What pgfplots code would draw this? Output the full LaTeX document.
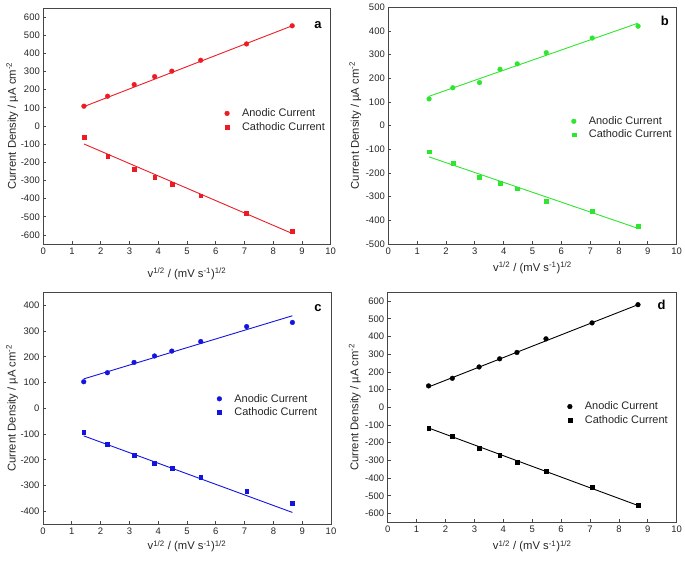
\documentclass[border=0pt]{standalone}
\usepackage{fontspec}
\setmainfont{Liberation Sans}
\usepackage{pgfplots}
\pgfplotsset{compat=1.18}
\definecolor{cred}{RGB}{237,28,36}
\definecolor{cgreen}{RGB}{45,230,45}
\definecolor{cblue}{RGB}{20,20,225}
\definecolor{cblack}{RGB}{0,0,0}
\definecolor{axgray}{RGB}{70,70,70}
\pgfplotsset{
 panel/.style={
  scale only axis,
  anchor=south west,
  xmin=0, xmax=10, xtick={0,1,...,10},
  tick pos=left, tick align=inside,
  major tick length=3bp,
  axis line style={axgray, line width=0.9bp},
  tick style={axgray, line width=0.8bp},
  /pgf/number format/assume math mode=true,
  ticklabel style={font=\fontsize{9.5}{11}\selectfont, text=black!85},
  label style={font=\fontsize{11.3}{13}\selectfont, text=black!85},
  xlabel={v\textsuperscript{1/2} / (mV s\textsuperscript{-1})\textsuperscript{1/2}},
  ylabel={Current Density / µA cm\textsuperscript{-2}},
  legend style={draw=none, fill=none, font=\fontsize{11}{13}\selectfont, text=black!85, anchor=west, row sep=0pt},
  legend cell align=left,
  legend image code/.code={\draw[##1] plot coordinates {(0bp,0bp)}; \path[draw=none,fill=none] (0bp,0bp) (13bp,0bp);},
  scaled y ticks=false,
  an/.style={only marks, mark=*, mark size=2.4bp, line width=0.3bp},
  ca/.style={only marks, mark=square*, mark size=1.9bp, line width=0.3bp},
  fit/.style={line width=0.9bp, no marks, forget plot},
 },
}
\begin{document}
\begin{tikzpicture}
\useasboundingbox (0,0) rectangle (685bp,564bp);
% ---------------- a
\begin{axis}[panel, at={(43.3bp,320bp)}, width=287.4bp, height=236bp,
  ymin=-650, ymax=650, ytick={-600,-500,...,600},
  xlabel style={at={([yshift=-30bp]axis description cs:0.5,0)}, anchor=center},
  ylabel style={at={([xshift=-31bp]axis description cs:0,0.5)}, anchor=center},
  legend style={at={(rel axis cs:0.620,0.525)}}]
\addplot[an, cred] coordinates {(1.414,109) (2.236,164) (3.162,228) (3.873,272) (4.472,302) (5.477,362) (7.071,452) (8.660,552)};
\addlegendentry{Anodic Current}
\addplot[ca, cred] coordinates {(1.414,-61) (2.236,-164) (3.162,-239) (3.873,-280) (4.472,-320) (5.477,-384) (7.071,-482) (8.660,-578)};
\addlegendentry{Cathodic Current}
\addplot[fit, cred] coordinates {(1.414,107) (8.660,552)};
\addplot[fit, cred] coordinates {(1.414,-99) (8.660,-592)};
\node[font=\bfseries\fontsize{13}{13}\selectfont] at (rel axis cs:0.956,0.928) {a};
\end{axis}
% ---------------- b
\begin{axis}[panel, at={(388.3bp,320bp)}, width=288.4bp, height=236.7bp,
  ymin=-500, ymax=500, ytick={-500,-400,...,500},
  xlabel style={at={([yshift=-24bp]axis description cs:0.5,0)}, anchor=center},
  ylabel style={at={([xshift=-33bp]axis description cs:0,0.5)}, anchor=center},
  legend style={at={(rel axis cs:0.624,0.49)}}]
\addplot[an, cgreen] coordinates {(1.414,113) (2.236,160) (3.162,182) (3.873,238) (4.472,261) (5.477,308) (7.071,370) (8.660,420)};
\addlegendentry{Anodic Current}
\addplot[ca, cgreen] coordinates {(1.414,-110) (2.236,-159) (3.162,-218) (3.873,-244) (4.472,-266) (5.477,-318) (7.071,-362) (8.660,-425)};
\addlegendentry{Cathodic Current}
\addplot[fit, cgreen] coordinates {(1.414,124) (8.660,433)};
\addplot[fit, cgreen] coordinates {(1.414,-132) (8.660,-434)};
\node[font=\bfseries\fontsize{13}{13}\selectfont] at (rel axis cs:0.959,0.943) {b};
\end{axis}
% ---------------- c
\begin{axis}[panel, at={(43bp,39.7bp)}, width=288bp, height=232bp,
  ymin=-450, ymax=450, ytick={-400,-300,...,400},
  xlabel style={at={([yshift=-22bp]axis description cs:0.5,0)}, anchor=center},
  ylabel style={at={([xshift=-31bp]axis description cs:0,0.5)}, anchor=center},
  legend style={at={(rel axis cs:0.593,0.512)}}]
\addplot[an, cblue] coordinates {(1.414,103) (2.236,138) (3.162,178) (3.873,203) (4.472,222) (5.477,259) (7.071,317) (8.660,333)};
\addlegendentry{Anodic Current}
\addplot[ca, cblue] coordinates {(1.414,-93) (2.236,-138) (3.162,-182) (3.873,-213) (4.472,-232) (5.477,-267) (7.071,-320) (8.660,-369)};
\addlegendentry{Cathodic Current}
\addplot[fit, cblue] coordinates {(1.414,114) (8.660,359)};
\addplot[fit, cblue] coordinates {(1.414,-107) (8.660,-404)};
\node[font=\bfseries\fontsize{13}{13}\selectfont] at (rel axis cs:0.955,0.931) {c};
\end{axis}
% ---------------- d
\begin{axis}[panel, at={(387.7bp,41.7bp)}, width=289bp, height=230bp,
  ymin=-650, ymax=650, ytick={-600,-500,...,600},
  xlabel style={at={([yshift=-24bp]axis description cs:0.5,0)}, anchor=center},
  ylabel style={at={([xshift=-33bp]axis description cs:0,0.5)}, anchor=center},
  legend style={at={(rel axis cs:0.611,0.474)}}]
\addplot[an, cblack] coordinates {(1.414,121) (2.236,164) (3.162,228) (3.873,274) (4.472,310) (5.477,387) (7.071,477) (8.660,580)};
\addlegendentry{Anodic Current}
\addplot[ca, cblack] coordinates {(1.414,-117) (2.236,-164) (3.162,-231) (3.873,-272) (4.472,-310) (5.477,-362) (7.071,-452) (8.660,-555)};
\addlegendentry{Cathodic Current}
\addplot[fit, cblack] coordinates {(1.414,115) (8.660,580)};
\addplot[fit, cblack] coordinates {(1.414,-117) (8.660,-555)};
\node[font=\bfseries\fontsize{13}{13}\selectfont] at (rel axis cs:0.948,0.945) {d};
\end{axis}
\end{tikzpicture}
\end{document}
